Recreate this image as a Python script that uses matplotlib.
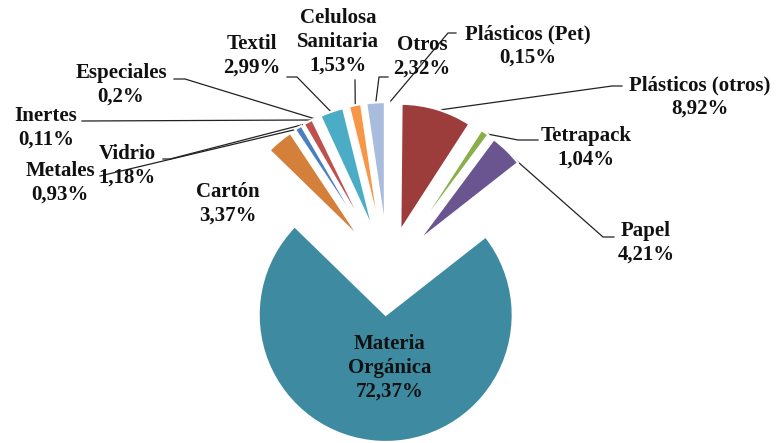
import matplotlib.pyplot as plt
import numpy as np

# data, clockwise from 12 o'clock (as Excel draws it)
categories = ["Plásticos (Pet)", "Plásticos (otros)", "Tetrapack", "Papel",
              "Materia\nOrgánica", "Cartón", "Metales", "Vidrio", "Inertes",
              "Especiales", "Textil", "Celulosa\nSanitaria", "Otros"]
values = [0.15, 8.92, 1.04, 4.21, 72.37, 3.37, 0.93, 1.18, 0.11, 0.2, 2.99, 1.53, 2.32]
value_labels = ["0,15%", "8,92%", "1,04%", "4,21%", "72,37%", "3,37%", "0,93%",
                "1,18%", "0,11%", "0,2%", "2,99%", "1,53%", "2,32%"]
colors = ["#4F81BD", "#9C3D3B", "#8AAE48", "#6A5590", "#3E8BA1", "#D4803A",
          "#4A7EC0", "#C0504D", "#9BBB59", "#8064A2", "#4BACC6", "#F79646", "#A9BCDD"]

# label placement (pixel coords, origin top-left) and leader elbow
label_pos = {
    "Plásticos (Pet)": (528, 46), "Plásticos (otros)": (700, 97),
    "Tetrapack": (586, 148), "Papel": (646, 243), "Materia\nOrgánica": (390, 368),
    "Cartón": (228, 204), "Metales": (60, 183), "Vidrio": (127, 166),
    "Inertes": (46, 128), "Especiales": (121, 85), "Textil": (252, 56),
    "Celulosa\nSanitaria": (338, 42), "Otros": (422, 57),
}
leader_start = {
    "Plásticos (Pet)": [(456, 33), (448, 33)], "Plásticos (otros)": [(622, 86), (612, 86)],
    "Tetrapack": [(538, 140), (518, 140)], "Papel": [(614, 237), (603, 237)],
    "Metales": [(100, 176)], "Vidrio": [(163, 159), (170, 159)],
    "Inertes": [(82, 121)], "Especiales": [(174, 79), (185, 79)],
    "Textil": [(287, 77), (297, 77)], "Celulosa\nSanitaria": [(355, 80)],
    "Otros": [(388, 77), (379, 77)],
}

W, H = 783, 443
R = 127
cx, cy = 388, 272
explode_px = 43

plt.rcParams["font.family"] = "serif"
plt.rcParams["font.serif"] = ["Liberation Serif", "DejaVu Serif"]

fig = plt.figure(figsize=(W / 100, H / 100), dpi=100)
ax = fig.add_axes([0, 0, 1, 1])

wedges, _ = ax.pie(values, colors=colors, startangle=90, counterclock=False,
                   center=(cx, H - cy), radius=R, explode=[explode_px] * len(values),
                   wedgeprops=dict(edgecolor="white", linewidth=1.5), frame=True)
ax.set_xlim(0, W)
ax.set_ylim(0, H)
ax.set_aspect("equal")
ax.axis("off")

font = dict(fontweight="bold", fontsize=15, color="#111111",
            ha="center", va="center", linespacing=1.25)

for w, cat, vl in zip(wedges, categories, value_labels):
    lx, ly = label_pos[cat]
    ax.text(lx, H - ly, cat + "\n" + vl, **font)
    if cat in leader_start:
        mid = np.deg2rad((w.theta1 + w.theta2) / 2)
        ex = w.center[0] + R * 0.99 * np.cos(mid)
        ey = w.center[1] + R * 0.99 * np.sin(mid)
        pts = leader_start[cat]
        xs = [p[0] for p in pts] + [ex]
        ys = [H - p[1] for p in pts] + [ey]
        ax.plot(xs, ys, color="#222222", lw=0.9, zorder=0.5)

fig.savefig("out.png", dpi=100)
